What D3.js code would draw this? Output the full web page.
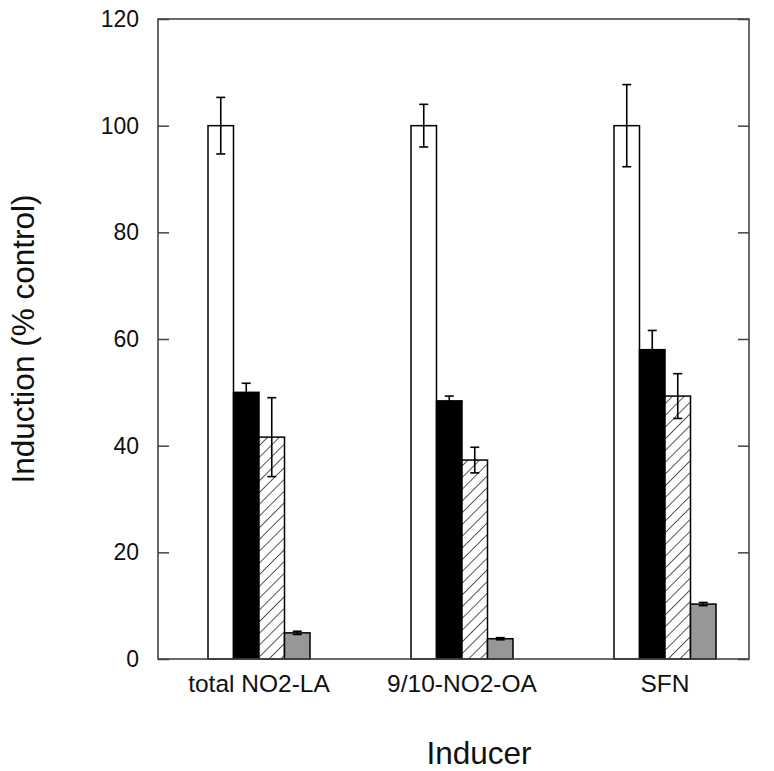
<!DOCTYPE html>
<html>
<head>
<meta charset="utf-8">
<script src="https://cdn.jsdelivr.net/npm/d3@7"></script>
<style>
  body { margin: 0; background: #fff; }
  svg { display: block; }
  text { font-family: "Liberation Sans", Arial, Helvetica, sans-serif; fill: #111; }
</style>
</head>
<body>
<svg id="chart" width="774" height="771"></svg>
<script>
// ---- data ----
const categories = ["total NO2-LA", "9/10-NO2-OA", "SFN"];
const seriesNames = ["white", "black", "hatched", "gray"];
const whiteValues   = [100, 100, 100];
const whiteErrors   = [5.3, 4.0, 7.7];
const blackValues   = [50.0, 48.4, 58.0];
const blackErrors   = [1.7, 0.9, 3.6];
const hatchedValues = [41.6, 37.3, 49.3];
const hatchedErrors = [7.4, 2.4, 4.2];
const grayValues    = [4.9, 3.8, 10.3];
const grayErrors    = [0.3, 0.2, 0.3];
const yTicks = [0, 20, 40, 60, 80, 100, 120];
const yTitle = "Induction (% control)";
const xTitle = "Inducer";

// ---- layout ----
const svg = d3.select("#chart");
const plot = { left: 158, right: 749, top: 19, bottom: 659 };

const x = d3.scalePoint().domain(categories).range([259, 665]);
const xInner = d3.scaleBand().domain(seriesNames).range([-51, 51]).padding(0);
const y = d3.scaleLinear().domain([0, 120]).range([plot.bottom, plot.top]);

const defs = svg.append("defs");
const pat = defs.append("pattern")
  .attr("id", "hatch")
  .attr("patternUnits", "userSpaceOnUse")
  .attr("width", 8.3).attr("height", 8.3)
  .attr("patternTransform", "rotate(45)");
pat.append("rect").attr("width", 8.3).attr("height", 8.3).attr("fill", "#fff");
pat.append("line").attr("x1", 0).attr("y1", 0).attr("x2", 0).attr("y2", 8.3)
  .attr("stroke", "#111").attr("stroke-width", 1.4);

const fills = { white: "#fff", black: "#000", hatched: "url(#hatch)", gray: "#979797" };
const valuesBySeries = { white: whiteValues, black: blackValues, hatched: hatchedValues, gray: grayValues };
const errorsBySeries = { white: whiteErrors, black: blackErrors, hatched: hatchedErrors, gray: grayErrors };

const data = [];
seriesNames.forEach(s => {
  categories.forEach((c, i) => {
    data.push({ series: s, cat: c, value: valuesBySeries[s][i], err: errorsBySeries[s][i] });
  });
});

// bars
svg.append("g").selectAll("rect").data(data).join("rect")
  .attr("x", d => x(d.cat) + xInner(d.series))
  .attr("y", d => y(d.value))
  .attr("width", xInner.bandwidth())
  .attr("height", d => y(0) - y(d.value))
  .attr("fill", d => fills[d.series])
  .attr("stroke", "#000")
  .attr("stroke-width", 1.5);

// error bars
const eg = svg.append("g").attr("stroke", "#000").attr("stroke-width", 1.6);
const cx = d => x(d.cat) + xInner(d.series) + xInner.bandwidth() / 2;
const cap = 4.5;
eg.selectAll("line.v").data(data).join("line").attr("class", "v")
  .attr("x1", cx).attr("x2", cx)
  .attr("y1", d => y(d.value + d.err)).attr("y2", d => y(d.value - d.err));
eg.selectAll("line.t").data(data).join("line").attr("class", "t")
  .attr("x1", d => cx(d) - cap).attr("x2", d => cx(d) + cap)
  .attr("y1", d => y(d.value + d.err)).attr("y2", d => y(d.value + d.err));
eg.selectAll("line.b").data(data).join("line").attr("class", "b")
  .attr("x1", d => cx(d) - cap).attr("x2", d => cx(d) + cap)
  .attr("y1", d => y(d.value - d.err)).attr("y2", d => y(d.value - d.err));

// axes (inward ticks)
const yAxisL = d3.axisLeft(y).tickValues(yTicks).tickSize(-11).tickPadding(19);
const gL = svg.append("g").attr("transform", `translate(${plot.left},0)`).call(yAxisL);
gL.select(".domain").remove();
gL.selectAll(".tick line").attr("stroke", "#444").attr("stroke-width", 1.5);
gL.selectAll(".tick text").attr("font-size", 23).attr("fill", "#111")
  .attr("font-family", "Liberation Sans, Arial, sans-serif");

const yAxisR = d3.axisRight(y).tickValues(yTicks).tickSize(-11).tickFormat("");
const gR = svg.append("g").attr("transform", `translate(${plot.right},0)`).call(yAxisR);
gR.select(".domain").remove();
gR.selectAll(".tick line").attr("stroke", "#444").attr("stroke-width", 1.5);

// frame
svg.append("rect")
  .attr("x", plot.left).attr("y", plot.top)
  .attr("width", plot.right - plot.left).attr("height", plot.bottom - plot.top)
  .attr("fill", "none").attr("stroke", "#444").attr("stroke-width", 1.6);

// category labels
svg.append("g").selectAll("text").data(categories).join("text")
  .attr("x", d => x(d)).attr("y", 692)
  .attr("text-anchor", "middle").attr("font-size", 24.5)
  .text(d => d);

// axis titles
svg.append("text")
  .attr("x", 479).attr("y", 764)
  .attr("text-anchor", "middle").attr("font-size", 31.5)
  .text(xTitle);
svg.append("text")
  .attr("transform", `translate(34,${(plot.top + plot.bottom) / 2}) rotate(-90)`)
  .attr("text-anchor", "middle").attr("font-size", 31.5)
  .text(yTitle);
</script>
</body>
</html>
